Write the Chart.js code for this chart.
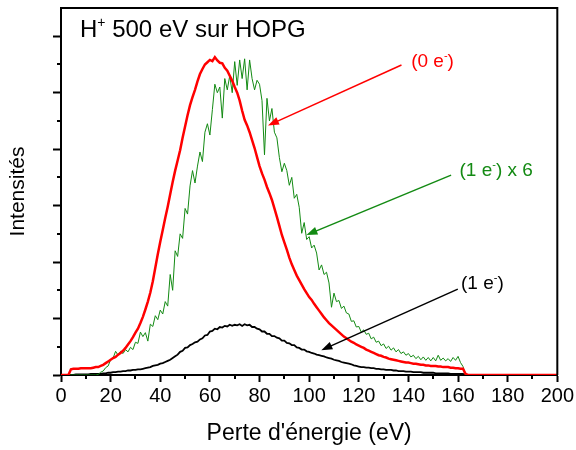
<!DOCTYPE html>
<html lang="fr">
<head>
<meta charset="utf-8">
<title>H+ 500 eV sur HOPG</title>
<script src="https://cdn.jsdelivr.net/npm/chart.js@4.4.1/dist/chart.umd.min.js"></script>
<style>
  html, body { margin: 0; padding: 0; background: #fff; }
  canvas { display: block; }
</style>
</head>
<body>
<canvas id="chart" width="576" height="450"></canvas>
<script>
// Perte d'énergie (eV), pas de 1 eV
const energie = [
  0, 1, 2, 3, 4, 5, 6, 7, 8, 9,
  10, 11, 12, 13, 14, 15, 16, 17, 18, 19,
  20, 21, 22, 23, 24, 25, 26, 27, 28, 29,
  30, 31, 32, 33, 34, 35, 36, 37, 38, 39,
  40, 41, 42, 43, 44, 45, 46, 47, 48, 49,
  50, 51, 52, 53, 54, 55, 56, 57, 58, 59,
  60, 61, 62, 63, 64, 65, 66, 67, 68, 69,
  70, 71, 72, 73, 74, 75, 76, 77, 78, 79,
  80, 81, 82, 83, 84, 85, 86, 87, 88, 89,
  90, 91, 92, 93, 94, 95, 96, 97, 98, 99,
  100, 101, 102, 103, 104, 105, 106, 107, 108, 109,
  110, 111, 112, 113, 114, 115, 116, 117, 118, 119,
  120, 121, 122, 123, 124, 125, 126, 127, 128, 129,
  130, 131, 132, 133, 134, 135, 136, 137, 138, 139,
  140, 141, 142, 143, 144, 145, 146, 147, 148, 149,
  150, 151, 152, 153, 154, 155, 156, 157, 158, 159,
  160, 161, 162, 163
];

// (0 e-)
const intensite0e = [
  0, 0, 0, 0, 0.10, 0.11, 0.11, 0.11, 0.12, 0.12,
  0.12, 0.12, 0.12, 0.13, 0.14, 0.14, 0.16, 0.18, 0.21, 0.24,
  0.27, 0.30, 0.32, 0.36, 0.39, 0.43, 0.48, 0.54, 0.60, 0.67,
  0.75, 0.82, 0.92, 1.03, 1.16, 1.30, 1.46, 1.66, 1.90, 2.14,
  2.36, 2.57, 2.78, 2.98, 3.20, 3.42, 3.62, 3.80, 3.98, 4.20,
  4.40, 4.60, 4.78, 4.92, 5.05, 5.20, 5.33, 5.42, 5.50, 5.54,
  5.58, 5.56, 5.63, 5.57, 5.53, 5.52, 5.44, 5.39, 5.30, 5.21,
  5.10, 5.00, 4.86, 4.68, 4.52, 4.42, 4.30, 4.16, 4.02, 3.86,
  3.70, 3.57, 3.46, 3.33, 3.22, 3.10, 2.95, 2.80, 2.64, 2.48,
  2.35, 2.22, 2.08, 1.96, 1.86, 1.76, 1.68, 1.60, 1.52, 1.45,
  1.38, 1.33, 1.26, 1.20, 1.14, 1.08, 1.02, 0.97, 0.92, 0.88,
  0.84, 0.80, 0.76, 0.72, 0.68, 0.65, 0.62, 0.59, 0.57, 0.54,
  0.52, 0.50, 0.48, 0.45, 0.43, 0.41, 0.39, 0.37, 0.35, 0.34,
  0.32, 0.31, 0.29, 0.28, 0.27, 0.26, 0.25, 0.24, 0.23, 0.22,
  0.22, 0.21, 0.20, 0.20, 0.19, 0.18, 0.18, 0.17, 0.17, 0.16,
  0.16, 0.16, 0.15, 0.15, 0.14, 0.14, 0.14, 0.13, 0.13, 0.12,
  0.12, 0.11, 0.11, 0.02
];
// la courbe rouge continue à zéro jusqu'à 200 eV
const queueEnergie = [164, 200];
const queue0e = [0, 0];

// (1 e-) x 6
const intensite1eX6 = [
  0, 0, 0, 0, 0, 0, 0, 0, 0, 0,
  0, 0, 0, 0, 0, 0.01, 0.05, 0.07, 0.13, 0.16,
  0.27, 0.30, 0.42, 0.35, 0.42, 0.38, 0.45, 0.41, 0.49, 0.45,
  0.58, 0.56, 0.76, 0.68, 0.75, 0.60, 0.90, 0.86, 1.05, 0.98,
  1.15, 1.08, 1.30, 1.22, 1.78, 1.50, 2.20, 2.10, 2.50, 2.42,
  2.95, 2.85, 3.35, 3.62, 3.40, 3.70, 3.95, 3.78, 4.30, 4.45,
  4.25, 4.70, 5.15, 5.00, 5.10, 4.55, 5.25, 5.05, 5.30, 5.00,
  5.55, 5.13, 5.58, 5.25, 5.60, 5.05, 5.58, 5.25, 5.05, 5.22,
  5.15, 4.86, 3.90, 4.90, 4.50, 4.72, 4.30, 4.20, 3.85, 3.60,
  3.75, 3.62, 3.36, 3.50, 3.13, 3.20, 2.97, 2.51, 2.70, 2.40,
  2.45, 2.25, 2.30, 2.16, 1.86, 1.95, 1.78, 1.82, 1.63, 1.20,
  1.45, 1.30, 1.32, 1.18, 1.22, 1.10, 1.08, 0.95, 0.96, 0.85,
  0.86, 0.76, 0.80, 0.72, 0.74, 0.64, 0.67, 0.58, 0.60, 0.52,
  0.55, 0.47, 0.51, 0.44, 0.48, 0.41, 0.45, 0.38, 0.41, 0.35,
  0.38, 0.32, 0.35, 0.29, 0.33, 0.27, 0.32, 0.26, 0.31, 0.25,
  0.31, 0.25, 0.35, 0.26, 0.30, 0.25, 0.29, 0.24, 0.31, 0.26,
  0.33, 0.22, 0.15, 0.00
];

// (1 e-)
const intensite1e = [
  0, 0, 0, 0, 0, 0, 0.01, 0.01, 0.01, 0.01,
  0.01, 0.01, 0.02, 0.02, 0.02, 0.02, 0.02, 0.03, 0.03, 0.04,
  0.04, 0.05, 0.05, 0.06, 0.06, 0.07, 0.07, 0.08, 0.08, 0.09,
  0.09, 0.10, 0.10, 0.11, 0.12, 0.13, 0.14, 0.16, 0.17, 0.18,
  0.20, 0.21, 0.23, 0.25, 0.27, 0.30, 0.33, 0.36, 0.41, 0.43,
  0.48, 0.49, 0.53, 0.55, 0.58, 0.59, 0.63, 0.65, 0.70, 0.71,
  0.77, 0.78, 0.82, 0.81, 0.85, 0.84, 0.87, 0.86, 0.89, 0.87,
  0.89, 0.88, 0.90, 0.87, 0.90, 0.88, 0.89, 0.85, 0.85, 0.82,
  0.81, 0.77, 0.77, 0.73, 0.73, 0.69, 0.69, 0.66, 0.65, 0.61,
  0.61, 0.57, 0.56, 0.53, 0.53, 0.49, 0.48, 0.45, 0.45, 0.42,
  0.41, 0.39, 0.38, 0.36, 0.35, 0.34, 0.33, 0.31, 0.30, 0.29,
  0.27, 0.26, 0.25, 0.23, 0.22, 0.21, 0.20, 0.19, 0.17, 0.16,
  0.15, 0.14, 0.14, 0.13, 0.13, 0.12, 0.12, 0.11, 0.11, 0.10,
  0.10, 0.09, 0.09, 0.09, 0.08, 0.08, 0.07, 0.07, 0.07, 0.06,
  0.06, 0.06, 0.05, 0.05, 0.05, 0.05, 0.04, 0.04, 0.04, 0.04,
  0.04, 0.03, 0.03, 0.03, 0.03, 0.03, 0.03, 0.02, 0.02, 0.02,
  0.02, 0.02, 0.02, 0.00
];

const xMajor = [0, 20, 40, 60, 80, 100, 120, 140, 160, 180, 200];
const xMinor = [10, 30, 50, 70, 90, 110, 130, 150, 170, 190];
const yMajor = [0, 1, 2, 3, 4, 5, 6];
const yMinor = [0.5, 1.5, 2.5, 3.5, 4.5, 5.5];

const FONT = "Arial, 'Liberation Sans', sans-serif";

// étiquettes fléchées, placées en coordonnées des données
const etiquettes = [
  { parts: ["(0 e", "^-", ")"], color: "#ff0000", at: [141.1, 5.58], from: [137.2, 5.49], to: [83.4, 4.42] },
  { parts: ["(1 e", "^-", ") x 6"], color: "#138a13", at: [160.6, 3.65], from: [157.2, 3.54], to: [98.9, 2.48] },
  { parts: ["(1 e", "^-", ")"], color: "#000000", at: [161.2, 1.65], from: [159.9, 1.52], to: [104.9, 0.44] },
];

function points(xs, ys) {
  return xs.map((x, i) => ({ x, y: ys[i] }));
}

function drawRich(ctx, parts, x, y, size, color) {
  ctx.fillStyle = color;
  ctx.textBaseline = "alphabetic";
  ctx.textAlign = "left";
  let cx = x;
  parts.forEach((p) => {
    if (p.startsWith("^")) {
      const t = p.slice(1);
      ctx.font = `${Math.round(size * 0.6)}px ${FONT}`;
      ctx.fillText(t, cx, y - size * 0.42);
      cx += ctx.measureText(t).width;
    } else {
      ctx.font = `${size}px ${FONT}`;
      ctx.fillText(p, cx, y);
      cx += ctx.measureText(p).width;
    }
  });
}

function drawArrow(ctx, x1, y1, x2, y2, color) {
  const ang = Math.atan2(y2 - y1, x2 - x1);
  const len = 11, half = 4;
  ctx.strokeStyle = color;
  ctx.fillStyle = color;
  ctx.lineWidth = 1.5;
  ctx.beginPath();
  ctx.moveTo(x1, y1);
  ctx.lineTo(x2 - Math.cos(ang) * len * 0.8, y2 - Math.sin(ang) * len * 0.8);
  ctx.stroke();
  ctx.beginPath();
  ctx.moveTo(x2, y2);
  ctx.lineTo(x2 - Math.cos(ang) * len + Math.sin(ang) * half, y2 - Math.sin(ang) * len - Math.cos(ang) * half);
  ctx.lineTo(x2 - Math.cos(ang) * len - Math.sin(ang) * half, y2 - Math.sin(ang) * len + Math.cos(ang) * half);
  ctx.closePath();
  ctx.fill();
}

const decorPlugin = {
  id: "decor",
  afterDraw(chart) {
    const { ctx, chartArea: a, scales: { x, y } } = chart;
    ctx.save();
    // cadre haut et droite
    ctx.strokeStyle = "#000";
    ctx.lineWidth = 2;
    ctx.beginPath();
    ctx.moveTo(a.left, a.top);
    ctx.lineTo(a.right, a.top);
    ctx.lineTo(a.right, a.bottom);
    ctx.stroke();
    // graduations secondaires
    ctx.lineWidth = 2;
    ctx.beginPath();
    xMinor.forEach((v) => {
      const px = Math.round(x.getPixelForValue(v));
      ctx.moveTo(px, a.bottom);
      ctx.lineTo(px, a.bottom + 4);
    });
    yMinor.forEach((v) => {
      const py = Math.round(y.getPixelForValue(v));
      ctx.moveTo(a.left, py);
      ctx.lineTo(a.left - 4, py);
    });
    ctx.stroke();

    // titre
    drawRich(ctx, ["H", "^+", " 500 eV sur HOPG"], a.left + 19, a.top + 29, 24, "#000");

    // étiquettes et flèches
    etiquettes.forEach((e) => {
      drawRich(ctx, e.parts, x.getPixelForValue(e.at[0]), y.getPixelForValue(e.at[1]) + 7, 19, e.color);
      drawArrow(ctx,
        x.getPixelForValue(e.from[0]), y.getPixelForValue(e.from[1]),
        x.getPixelForValue(e.to[0]), y.getPixelForValue(e.to[1]), e.color);
    });
    ctx.restore();
  },
};

const axisBase = {
  border: { display: true, color: "#000", width: 2 },
  grid: { drawOnChartArea: false, drawTicks: true, tickColor: "#000", tickWidth: 2 },
};

new Chart(document.getElementById("chart"), {
  type: "line",
  data: {
    datasets: [
      {
        label: "(0 e-)",
        data: points(energie, intensite0e).concat(points(queueEnergie, queue0e)),
        borderColor: "#ff0000",
        borderWidth: 2.5,
        pointRadius: 0,
        tension: 0,
      },
      {
        label: "(1 e-) x 6",
        data: points(energie, intensite1eX6),
        borderColor: "#138a13",
        borderWidth: 1,
        pointRadius: 0,
        tension: 0,
      },
      {
        label: "(1 e-)",
        data: points(energie, intensite1e),
        borderColor: "#000000",
        borderWidth: 1.8,
        pointRadius: 0,
        tension: 0,
      },
    ],
  },
  options: {
    responsive: false,
    animation: false,
    layout: { padding: { top: 8, right: 18, left: 0, bottom: 0 } },
    plugins: { legend: { display: false }, tooltip: { enabled: false } },
    scales: {
      x: {
        ...axisBase,
        type: "linear",
        min: 0,
        max: 200,
        grid: { ...axisBase.grid, tickLength: 7 },
        afterBuildTicks: (s) => { s.ticks = xMajor.map((v) => ({ value: v })); },
        afterFit: (s) => { s.height = 75; },
        ticks: { color: "#000", font: { family: FONT, size: 20 }, padding: 2, maxRotation: 0, autoSkip: false },
        title: { display: true, text: "Perte d'énergie (eV)", color: "#000", font: { family: FONT, size: 23 }, padding: { top: 0, bottom: 3 } },
      },
      y: {
        ...axisBase,
        min: 0,
        max: 6.5,
        grid: { ...axisBase.grid, tickLength: 8 },
        afterBuildTicks: (s) => { s.ticks = yMajor.map((v) => ({ value: v })); },
        afterFit: (s) => { s.width = 61; },
        ticks: { display: false },
        title: { display: true, text: "Intensités", color: "#000", font: { family: FONT, size: 21 }, padding: { top: 6, bottom: 0 } },
      },
    },
  },
  plugins: [decorPlugin],
});
</script>
</body>
</html>
